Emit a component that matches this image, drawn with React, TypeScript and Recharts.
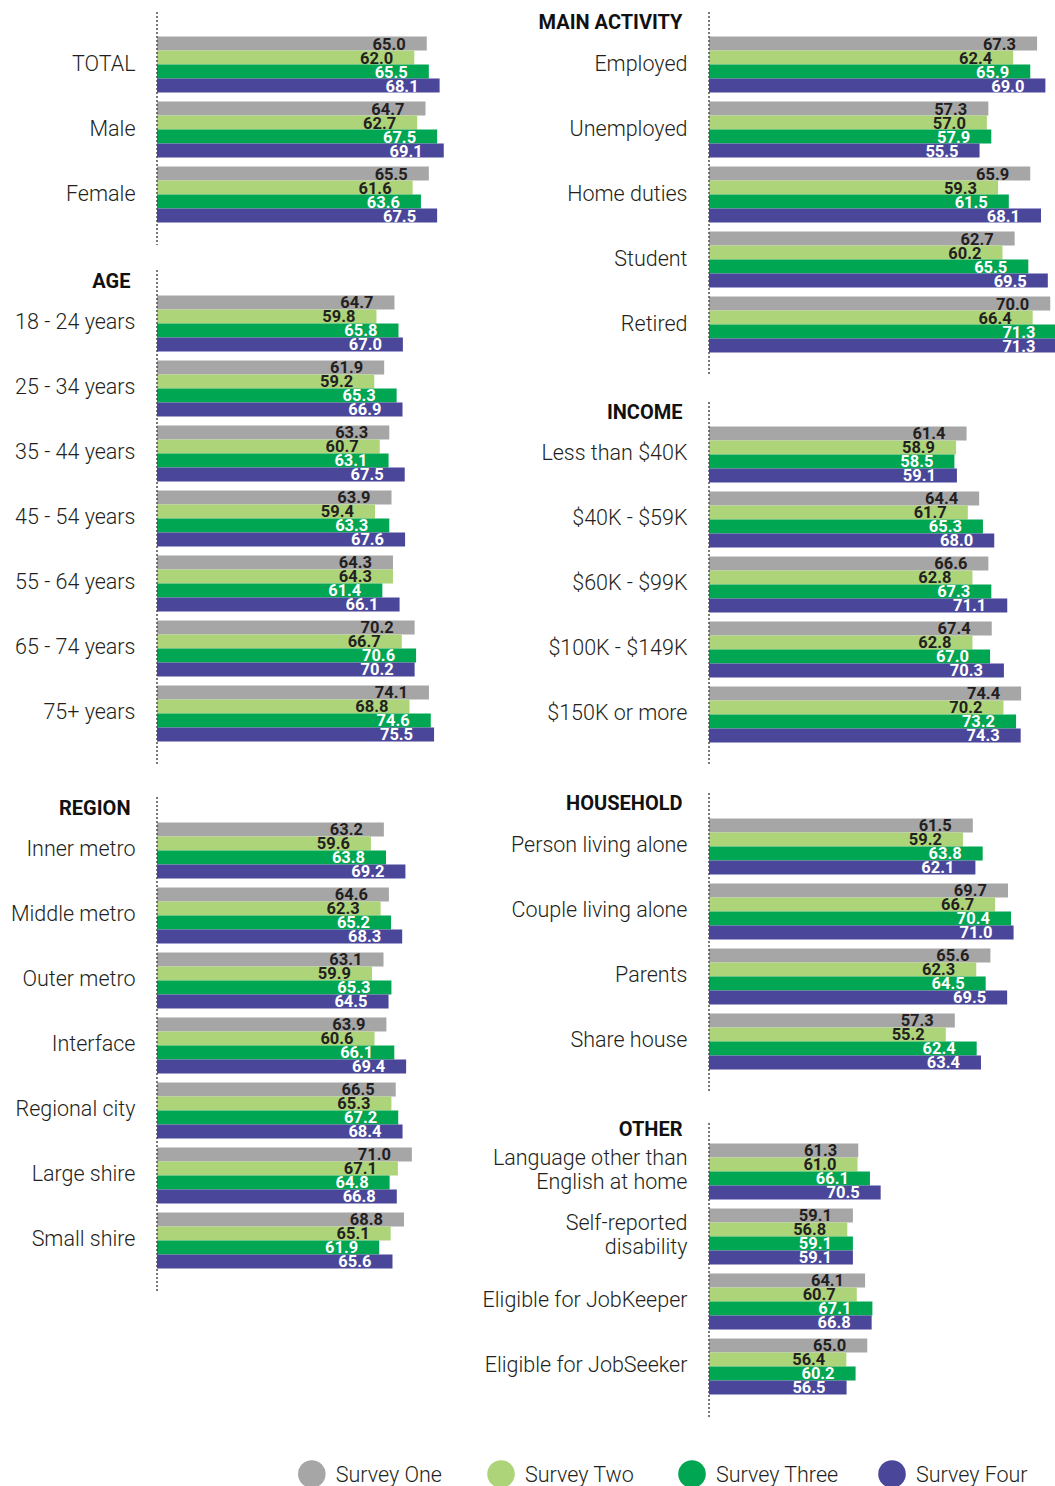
import React from 'react';
import { BarChart, Bar, XAxis, YAxis, LabelList } from 'recharts';

// ---- series ----
const seriesNames = ['Survey One', 'Survey Two', 'Survey Three', 'Survey Four'];
const seriesKeys = ['one', 'two', 'three', 'four'];
const seriesColors = ['#A6A6A6', '#AED47A', '#00A651', '#4A479B'];
const labelColors = ['#231F20', '#231F20', '#FFFFFF', '#FFFFFF'];

// ---- TOTAL ----
const totalCategories = ['TOTAL', 'Male', 'Female'];
const totalOne = [65.0, 64.7, 65.5];
const totalTwo = [62.0, 62.7, 61.6];
const totalThree = [65.5, 67.5, 63.6];
const totalFour = [68.1, 69.1, 67.5];

// ---- AGE ----
const ageCategories = ['18 - 24 years', '25 - 34 years', '35 - 44 years', '45 - 54 years', '55 - 64 years', '65 - 74 years', '75+ years'];
const ageOne = [64.7, 61.9, 63.3, 63.9, 64.3, 70.2, 74.1];
const ageTwo = [59.8, 59.2, 60.7, 59.4, 64.3, 66.7, 68.8];
const ageThree = [65.8, 65.3, 63.1, 63.3, 61.4, 70.6, 74.6];
const ageFour = [67.0, 66.9, 67.5, 67.6, 66.1, 70.2, 75.5];

// ---- REGION ----
const regionCategories = ['Inner metro', 'Middle metro', 'Outer metro', 'Interface', 'Regional city', 'Large shire', 'Small shire'];
const regionOne = [63.2, 64.6, 63.1, 63.9, 66.5, 71.0, 68.8];
const regionTwo = [59.6, 62.3, 59.9, 60.6, 65.3, 67.1, 65.1];
const regionThree = [63.8, 65.2, 65.3, 66.1, 67.2, 64.8, 61.9];
const regionFour = [69.2, 68.3, 64.5, 69.4, 68.4, 66.8, 65.6];

// ---- MAIN ACTIVITY ----
const activityCategories = ['Employed', 'Unemployed', 'Home duties', 'Student', 'Retired'];
const activityOne = [67.3, 57.3, 65.9, 62.7, 70.0];
const activityTwo = [62.4, 57.0, 59.3, 60.2, 66.4];
const activityThree = [65.9, 57.9, 61.5, 65.5, 71.3];
const activityFour = [69.0, 55.5, 68.1, 69.5, 71.3];

// ---- INCOME ----
const incomeCategories = ['Less than $40K', '$40K - $59K', '$60K - $99K', '$100K - $149K', '$150K or more'];
const incomeOne = [61.4, 64.4, 66.6, 67.4, 74.4];
const incomeTwo = [58.9, 61.7, 62.8, 62.8, 70.2];
const incomeThree = [58.5, 65.3, 67.3, 67.0, 73.2];
const incomeFour = [59.1, 68.0, 71.1, 70.3, 74.3];

// ---- HOUSEHOLD ----
const householdCategories = ['Person living alone', 'Couple living alone', 'Parents', 'Share house'];
const householdOne = [61.5, 69.7, 65.6, 57.3];
const householdTwo = [59.2, 66.7, 62.3, 55.2];
const householdThree = [63.8, 70.4, 64.5, 62.4];
const householdFour = [62.1, 71.0, 69.5, 63.4];

// ---- OTHER ----
const otherCategories = ['Language other than\nEnglish at home', 'Self-reported\ndisability', 'Eligible for JobKeeper', 'Eligible for JobSeeker'];
const otherOne = [61.3, 59.1, 64.1, 65.0];
const otherTwo = [61.0, 56.8, 60.7, 56.4];
const otherThree = [66.1, 59.1, 67.1, 60.2];
const otherFour = [70.5, 59.1, 66.8, 56.5];

const DOMAIN_MAX = 80;
const FONT = 'Roboto, "Noto Sans", "DejaVu Sans", sans-serif';
const TEXT_DARK = '#231F20';

function buildRows(cats: string[], a: number[], b: number[], c: number[], d: number[]) {
  return cats.map((name, i) => ({ name, one: a[i], two: b[i], three: c[i], four: d[i] }));
}

type SectionProps = {
  rows: any[];
  left: number;
  top: number;
  height: number;
  axisWidth: number;
  pxPerUnit: number;
  padTop: number;
  padBottom: number;
  header?: string;
  headerY?: number;
};

function makeTick(labelX: number) {
  return function CategoryTick(props: any) {
    const { y, payload } = props;
    const lines = String(payload.value).split('\n');
    const lineGap = 24;
    const first = y + 6.5 - ((lines.length - 1) * lineGap) / 2;
    return (
      <text
        x={labelX}
        y={first}
        textAnchor="end"
        fontFamily={FONT}
        fontWeight={300}
        fontSize={21.5}
        fill={TEXT_DARK}
      >
        {lines.map((ln, i) => (
          <tspan key={i} x={labelX} y={first + i * lineGap}>
            {ln}
          </tspan>
        ))}
      </text>
    );
  };
}

function makeValueLabel(fill: string) {
  return function ValueLabel(props: any) {
    const { x, y, width, height, value } = props;
    return (
      <text
        x={Number(x) + Number(width) - 21}
        y={Number(y) + Number(height) - 1}
        textAnchor="end"
        fontFamily={FONT}
        fontWeight={700}
        fontSize={16.5}
        fill={fill}
      >
        {Number(value).toFixed(1)}
      </text>
    );
  };
}

function Section({ rows, left, top, height, axisWidth, pxPerUnit, padTop, padBottom }: SectionProps) {
  const width = axisWidth + pxPerUnit * DOMAIN_MAX;
  return (
    <div style={{ position: 'absolute', left, top }}>
      <BarChart
        width={width}
        height={height}
        data={rows}
        layout="vertical"
        margin={{ top: 0, right: 0, bottom: 0, left: 0 }}
        barGap={0}
      >
        <XAxis type="number" domain={[0, DOMAIN_MAX]} hide allowDataOverflow />
        <YAxis
          type="category"
          dataKey="name"
          width={axisWidth}
          interval={0}
          tickLine={false}
          axisLine={{ stroke: '#4D4D4D', strokeWidth: 1.5, strokeDasharray: '2 2' }}
          tick={makeTick(axisWidth - 21.5)}
          padding={{ top: padTop, bottom: padBottom }}
        />
        {seriesKeys.map((k, i) => (
          <Bar key={k} dataKey={k} name={seriesNames[i]} fill={seriesColors[i]} barSize={14} isAnimationActive={false}>
            <LabelList dataKey={k} content={makeValueLabel(labelColors[i])} />
          </Bar>
        ))}
      </BarChart>
    </div>
  );
}

const LEFT_AXIS = 157;
const RIGHT_COL = 470;
const RIGHT_AXIS = 709;

const sections: SectionProps[] = [
  { rows: buildRows(totalCategories, totalOne, totalTwo, totalThree, totalFour), left: 0, top: 12, height: 233, axisWidth: LEFT_AXIS, pxPerUnit: 4.15, padTop: 19.5, padBottom: 18.5 },
  { rows: buildRows(ageCategories, ageOne, ageTwo, ageThree, ageFour), left: 0, top: 270, height: 495, axisWidth: LEFT_AXIS, pxPerUnit: 3.67, padTop: 20.5, padBottom: 19.5, header: 'AGE', headerY: 280.5 },
  { rows: buildRows(regionCategories, regionOne, regionTwo, regionThree, regionFour), left: 0, top: 797, height: 494, axisWidth: LEFT_AXIS, pxPerUnit: 3.59, padTop: 20.5, padBottom: 18.5, header: 'REGION', headerY: 807.5 },
  { rows: buildRows(activityCategories, activityOne, activityTwo, activityThree, activityFour), left: RIGHT_COL, top: 12, height: 363, axisWidth: RIGHT_AXIS - RIGHT_COL, pxPerUnit: 4.875, padTop: 19.5, padBottom: 18.5, header: 'MAIN ACTIVITY', headerY: 21.3 },
  { rows: buildRows(incomeCategories, incomeOne, incomeTwo, incomeThree, incomeFour), left: RIGHT_COL, top: 402, height: 364, axisWidth: RIGHT_AXIS - RIGHT_COL, pxPerUnit: 4.195, padTop: 19.5, padBottom: 19.5, header: 'INCOME', headerY: 411.5 },
  { rows: buildRows(householdCategories, householdOne, householdTwo, householdThree, householdFour), left: RIGHT_COL, top: 793, height: 299, axisWidth: RIGHT_AXIS - RIGHT_COL, pxPerUnit: 4.29, padTop: 20.5, padBottom: 18.5, header: 'HOUSEHOLD', headerY: 803 },
  { rows: buildRows(otherCategories, otherOne, otherTwo, otherThree, otherFour), left: RIGHT_COL, top: 1123, height: 294, axisWidth: RIGHT_AXIS - RIGHT_COL, pxPerUnit: 2.435, padTop: 15.5, padBottom: 18.5, header: 'OTHER', headerY: 1129 },
];

const legendX = [311.8, 501, 692, 892];
const LEGEND_Y = 1474;

export default function App() {
  return (
    <div
      style={{
        position: 'absolute',
        left: 0,
        top: 0,
        width: 1055,
        height: 1486,
        overflow: 'hidden',
        background: '#FFFFFF',
      }}
    >
      {sections.map((s, i) => (
        <Section key={i} {...s} />
      ))}
      <svg
        width={1055}
        height={1486}
        style={{ position: 'absolute', left: 0, top: 0, pointerEvents: 'none' }}
      >
        {sections
          .filter((s) => s.header)
          .map((s) => (
            <text
              key={s.header}
              x={s.left + s.axisWidth - 26.5}
              y={(s.headerY as number) + 7.2}
              textAnchor="end"
              fontFamily={FONT}
              fontWeight={700}
              fontSize={20}
              fill="#111111"
            >
              {s.header}
            </text>
          ))}
        {seriesNames.map((n, i) => (
          <g key={n}>
            <circle cx={legendX[i]} cy={LEGEND_Y} r={13.8} fill={seriesColors[i]} />
            <text
              x={legendX[i] + 24}
              y={LEGEND_Y + 8}
              fontFamily={FONT}
              fontWeight={300}
              fontSize={21.5}
              fill={TEXT_DARK}
            >
              {n}
            </text>
          </g>
        ))}
      </svg>
    </div>
  );
}
